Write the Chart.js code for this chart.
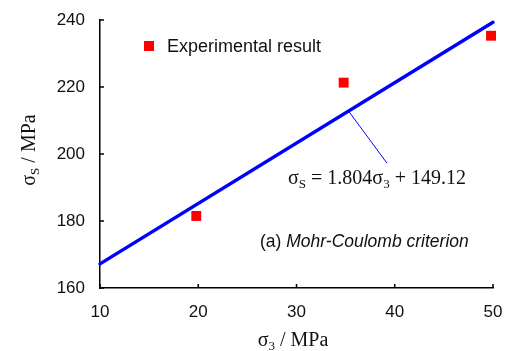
<!DOCTYPE html>
<html lang="en">
<head>
  <meta charset="UTF-8">
  <title>Mohr-Coulomb criterion</title>
  <script src="https://cdn.jsdelivr.net/npm/chart.js"></script>
  <style>
    body { margin: 0; background: #fff; }
    #wrap { width: 505px; height: 351px; }
  </style>
</head>
<body>
  <div id="wrap"><canvas id="chart" width="505" height="351" style="width:505px;height:351px"></canvas></div>
  <script>
    // values
    const sigma3 = [19.8, 34.8, 49.8];
    const sigmaS = [181.5, 221.3, 235.3];
    const fitX = [10, 50];
    const fitY = [167.2, 239.3];       // 1.804*s3 + 149.12 at the ends
    const leaderX = [35.3, 39.2];
    const leaderY = [212.8, 197.3];
    const xTicks = [10, 20, 30, 40, 50];
    const yTicks = [160, 180, 200, 220, 240];

    const SANS = '"Liberation Sans", Arial, sans-serif';
    const SERIF = '"Liberation Serif", "Times New Roman", serif';

    function pts(xs, ys) {
      return xs.map((x, i) => ({ x: x, y: ys[i] }));
    }

    // draw a list of [text, font, dy] pieces as one line
    function drawRuns(ctx, runs, x, y, align) {
      let w = 0;
      runs.forEach(r => { ctx.font = r[1]; w += ctx.measureText(r[0]).width; });
      let cx = align === 'center' ? x - w / 2 : x;
      ctx.textAlign = 'left';
      runs.forEach(r => {
        ctx.font = r[1];
        ctx.fillText(r[0], cx, y + (r[2] || 0));
        cx += ctx.measureText(r[0]).width;
      });
    }

    const extras = {
      id: 'extras',
      afterDraw(chart) {
        const ctx = chart.ctx;
        const xs = chart.scales.x, ys = chart.scales.y;
        const area = chart.chartArea;
        const big = '20px ' + SERIF, sub = '13px ' + SERIF;
        ctx.save();
        // inward ticks
        ctx.strokeStyle = '#000';
        ctx.lineWidth = 1.5;
        ctx.beginPath();
        xTicks.forEach(v => {
          const px = xs.getPixelForValue(v);
          ctx.moveTo(px, area.bottom);
          ctx.lineTo(px, area.bottom - 4);
        });
        yTicks.forEach(v => {
          const py = ys.getPixelForValue(v);
          ctx.moveTo(area.left, py);
          ctx.lineTo(area.left + 4, py);
        });
        ctx.stroke();

        ctx.fillStyle = '#111';
        ctx.textBaseline = 'alphabetic';
        // x title
        drawRuns(ctx, [['σ', big], ['3', sub, 4], [' / MPa', big]], 293, 346, 'center');
        // y title
        ctx.save();
        ctx.translate(35, 150);
        ctx.rotate(-Math.PI / 2);
        drawRuns(ctx, [['σ', big], ['S', sub, 4], [' / MPa', big]], 0, 0, 'center');
        ctx.restore();
        // fit equation
        drawRuns(ctx, [['σ', big], ['S', sub, 4], [' = 1.804σ', big], ['3', sub, 4], [' + 149.12', big]], 377, 184, 'center');
        // caption
        drawRuns(ctx, [['(a) ', '17.5px ' + SANS], ['Mohr-Coulomb criterion', 'italic 17.5px ' + SANS]], 260, 247, 'left');
        // legend
        ctx.fillStyle = '#ff0000';
        ctx.fillRect(144, 41, 10, 10);
        ctx.fillStyle = '#111';
        ctx.textBaseline = 'middle';
        drawRuns(ctx, [['Experimental result', '18px ' + SANS]], 167, 47, 'left');
        ctx.restore();
      }
    };

    new Chart(document.getElementById('chart'), {
      type: 'scatter',
      data: {
        datasets: [
          {
            label: 'fit',
            data: pts(fitX, fitY),
            showLine: true,
            borderColor: '#0000ff',
            borderWidth: 3.5,
            borderCapStyle: 'round',
            pointRadius: 0,
            clip: false
          },
          {
            label: 'leader',
            data: pts(leaderX, leaderY),
            showLine: true,
            borderColor: '#0000ff',
            borderWidth: 1,
            pointRadius: 0,
            clip: false
          },
          {
            label: 'Experimental result',
            data: pts(sigma3, sigmaS),
            pointStyle: 'rect',
            pointRadius: 7,
            pointBackgroundColor: '#ff0000',
            pointBorderWidth: 0,
            clip: false
          }
        ]
      },
      options: {
        responsive: false,
        animation: false,
        events: [],
        layout: { padding: { top: 20, right: 12, left: 0, bottom: 0 } },
        plugins: { legend: { display: false }, tooltip: { enabled: false } },
        scales: {
          x: {
            type: 'linear',
            min: 10, max: 50,
            afterBuildTicks: s => { s.ticks = xTicks.map(v => ({ value: v })); },
            afterFit: s => { s.height = 63; s.paddingLeft = 0; s.paddingRight = 0; },
            grid: { display: false, drawTicks: false },
            border: { display: true, color: '#000', width: 1.5 },
            ticks: { padding: 14, color: '#111', font: { family: SANS, size: 17 } }
          },
          y: {
            type: 'linear',
            min: 160, max: 240,
            afterBuildTicks: s => { s.ticks = yTicks.map(v => ({ value: v })); },
            afterFit: s => { s.width = 100; s.paddingTop = 0; s.paddingBottom = 0; },
            grid: { display: false, drawTicks: false },
            border: { display: true, color: '#000', width: 1.5 },
            ticks: { padding: 15, color: '#111', font: { family: SANS, size: 17 } }
          }
        }
      },
      plugins: [extras]
    });
  </script>
</body>
</html>
